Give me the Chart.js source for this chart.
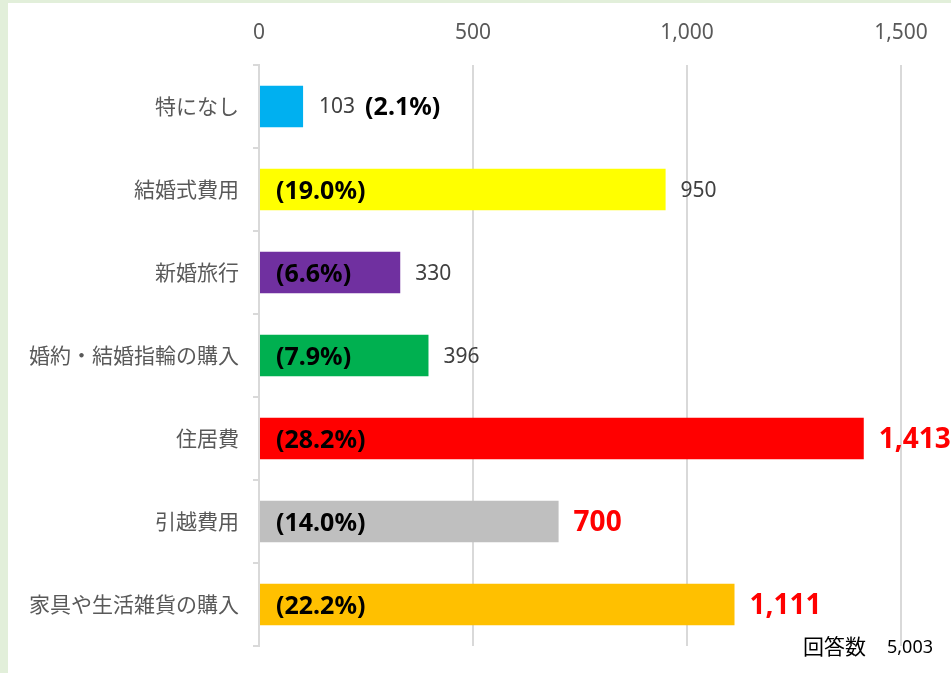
<!DOCTYPE html>
<html>
<head>
<meta charset="utf-8">
<script src="https://cdn.jsdelivr.net/npm/chart.js@4.4.1/dist/chart.umd.min.js"></script>
<style>
  html, body { margin: 0; padding: 0; }
  body { width: 951px; height: 673px; background: #e2efda; position: relative; overflow: hidden; }
  #box { position: absolute; left: 8px; top: 3px; width: 943px; height: 670px; background: #fff; }
</style>
</head>
<body>
<div id="box"><canvas id="costChart" width="943" height="670"></canvas></div>
<script>
// 結婚費用の内訳 (回答数 5,003)
const categories = ['特になし', '結婚式費用', '新婚旅行', '婚約・結婚指輪の購入', '住居費', '引越費用', '家具や生活雑貨の購入'];
const counts = [103, 950, 330, 396, 1413, 700, 1111];
const shares = [2.1, 19.0, 6.6, 7.9, 28.2, 14.0, 22.2];
const emphasised = [4, 5, 6]; // red labels
const barColors = ['#00b0f0', '#ffff00', '#7030a0', '#00b050', '#ff0000', '#bfbfbf', '#ffc000'];
const xTicks = [0, 500, 1000, 1500];
const totalAnswers = 5003;

const JP = '"Noto Sans CJK JP", sans-serif';
const NUM = '"Noto Sans", "Open Sans", sans-serif';

// value + share labels drawn next to / inside the bars
const barLabels = {
    id: 'barLabels',
    afterDatasetsDraw(chart) {
        const ctx = chart.ctx;
        const xs = chart.scales.x, ys = chart.scales.y;
        const left = xs.getPixelForValue(0);
        ctx.save();
        ctx.textBaseline = 'middle';
        counts.forEach((v, i) => {
            const y = ys.getPixelForValue(i);
            const end = xs.getPixelForValue(v);
            const txt = v.toLocaleString('en-US');
            const pct = '(' + shares[i].toFixed(1) + '%)';
            if (i === 0) {
                // small bar: both labels outside
                ctx.font = '21px ' + NUM;
                ctx.fillStyle = '#404040';
                ctx.fillText(txt, end + 16, y + 1);
                const w = ctx.measureText(txt).width;
                ctx.font = 'bold 25px ' + NUM;
                ctx.fillStyle = '#000';
                ctx.fillText(pct, end + 16 + w + 10, y + 1);
                return;
            }
            ctx.font = 'bold 25px ' + NUM;
            ctx.fillStyle = '#000';
            ctx.fillText(pct, left + 17, y + 2);
            if (emphasised.includes(i)) {
                ctx.font = 'bold 28px ' + NUM;
                ctx.fillStyle = '#ff0000';
            } else {
                ctx.font = '21px ' + NUM;
                ctx.fillStyle = '#404040';
            }
            ctx.fillText(txt, end + 15, y + 2);
        });
        // total answers note
        ctx.fillStyle = '#000';
        ctx.font = '21px ' + JP;
        ctx.fillText('回答数', 795, 643);
        ctx.font = '18px ' + NUM;
        ctx.fillText(totalAnswers.toLocaleString('en-US'), 879, 645);
        ctx.restore();
    }
};

const ctx = document.getElementById('costChart').getContext('2d');
const costChart = new Chart(ctx, {
    type: 'bar',
    data: {
        labels: categories,
        datasets: [{
            data: counts,
            backgroundColor: barColors,
            barPercentage: 0.5,
            categoryPercentage: 1.0
        }]
    },
    options: {
        indexAxis: 'y',
        responsive: false,
        animation: false,
        layout: { padding: { left: 0, top: 0, right: 50, bottom: 27 } },
        plugins: {
            legend: { display: false },
            tooltip: { enabled: false }
        },
        scales: {
            x: {
                position: 'top',
                min: 0,
                max: 1500,
                afterBuildTicks: (scale) => { scale.ticks = xTicks.map(v => ({ value: v })); },
                afterFit: (scale) => { scale.height = 62; },
                border: { display: false },
                grid: { color: '#d9d9d9', lineWidth: 2, drawTicks: false },
                ticks: {
                    padding: 19,
                    color: '#595959',
                    font: { family: NUM, size: 21 },
                    callback: (v) => v.toLocaleString('en-US')
                }
            },
            y: {
                afterFit: (scale) => { scale.width = 251; },
                border: { display: true, color: '#d9d9d9', width: 2 },
                grid: { drawOnChartArea: false, offset: true, color: '#d9d9d9', lineWidth: 2, tickLength: 6 },
                ticks: {
                    padding: 14,
                    color: '#595959',
                    font: { family: JP, size: 21 }
                }
            }
        }
    },
    plugins: [barLabels]
});
</script>
</body>
</html>
